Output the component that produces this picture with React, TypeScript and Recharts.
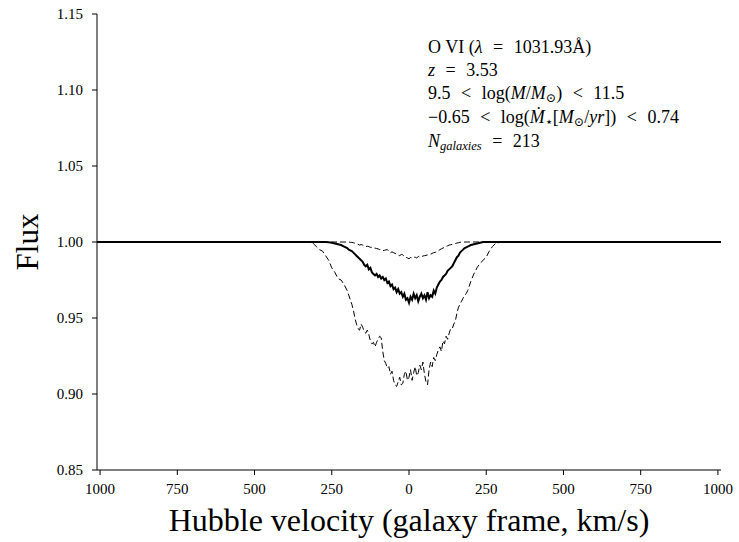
import React from "react";
import { LineChart, Line, XAxis, YAxis, Customized } from "recharts";

const velocity = [
  -1010, -400,
  -340, -330, -320, -310, -300, -290, -280, -270, -260, -250, -240, -230, -220, -210,
  -200, -195, -190, -185, -180, -175, -170, -165, -160, -155, -150, -145, -140, -135, -130, -125,
  -120, -115, -110, -105, -100, -95, -90, -85, -80, -75, -70, -65, -60, -55, -50, -45,
  -40, -35, -30, -25, -20, -15, -10, -5, 0, 5, 10, 15, 20, 25, 30, 35,
  40, 45, 50, 55, 60, 65, 70, 75, 80, 85, 90, 95, 100, 105, 110, 115,
  120, 125, 130, 135, 140, 145, 150, 155, 160, 165, 170, 175, 180, 185, 190, 195, 200,
  210, 220, 230, 240, 250, 260, 270, 280, 290, 300, 310, 320, 330, 340,
  400, 1010,
];

const medianFlux = [
  1.0, 1.0,
  1.0, 1.0, 1.0, 1.0, 1.0, 1.0, 1.0, 1.0, 0.9998, 0.9995, 0.999, 0.9985, 0.998, 0.997,
  0.996, 0.995, 0.9945, 0.994, 0.993, 0.992, 0.991, 0.99, 0.989, 0.988, 0.987, 0.985, 0.984, 0.985, 0.982, 0.983,
  0.98, 0.979, 0.978, 0.979, 0.977, 0.978, 0.976, 0.977, 0.975, 0.976, 0.973, 0.974, 0.971, 0.972, 0.969, 0.97,
  0.967, 0.969, 0.966, 0.967, 0.964, 0.966, 0.962, 0.963, 0.96, 0.964, 0.962, 0.966, 0.963, 0.965, 0.961, 0.964,
  0.966, 0.963, 0.965, 0.962, 0.967, 0.963, 0.965, 0.964, 0.968, 0.966, 0.97, 0.972, 0.974, 0.975, 0.977, 0.978,
  0.979, 0.981, 0.982, 0.983, 0.984, 0.986, 0.988, 0.99, 0.991, 0.993, 0.994, 0.995, 0.996, 0.9965, 0.997, 0.9975, 0.998,
  0.9985, 0.999, 0.9995, 1.0, 1.0, 1.0, 1.0, 1.0, 1.0, 1.0, 1.0, 1.0, 1.0, 1.0,
  1.0, 1.0,
];

const upperFlux = [
  1.0, 1.0,
  1.0, 1.0, 1.0, 1.0, 1.0, 1.0, 1.0, 1.0, 1.0, 1.0, 1.0, 1.0, 1.0, 1.0,
  1.0, 1.0, 0.9998, 0.9997, 0.9995, 0.9992, 0.999, 0.9985, 0.998, 0.9983, 0.998, 0.9975, 0.997, 0.9972, 0.997, 0.9965,
  0.9965, 0.996, 0.996, 0.9957, 0.9955, 0.995, 0.995, 0.9943, 0.9945, 0.9948, 0.995, 0.9938, 0.993, 0.9935, 0.993, 0.9925,
  0.992, 0.9915, 0.991, 0.9918, 0.9915, 0.9905, 0.99, 0.9895, 0.989, 0.9898, 0.9895, 0.99, 0.99, 0.9895, 0.9905, 0.99,
  0.99, 0.9908, 0.991, 0.9912, 0.9915, 0.9918, 0.992, 0.9925, 0.993, 0.9932, 0.9935, 0.9942, 0.995, 0.9955, 0.996, 0.9965,
  0.997, 0.9975, 0.998, 0.9982, 0.9985, 0.9988, 0.999, 0.9993, 0.9995, 0.9998, 1.0, 1.0, 1.0, 1.0, 1.0, 1.0, 1.0,
  1.0, 1.0, 1.0, 1.0, 1.0, 1.0, 1.0, 1.0, 1.0, 1.0, 1.0, 1.0, 1.0, 1.0,
  1.0, 1.0,
];

const lowerFlux = [
  1.0, 1.0,
  1.0, 1.0, 0.9995, 0.999, 0.997, 0.995, 0.994, 0.991, 0.988, 0.983, 0.98, 0.976, 0.975, 0.972,
  0.968, 0.965, 0.962, 0.959, 0.955, 0.95, 0.946, 0.943, 0.942, 0.946, 0.944, 0.941, 0.94, 0.942, 0.939, 0.935,
  0.933, 0.934, 0.931, 0.934, 0.936, 0.938, 0.937, 0.928, 0.922, 0.92, 0.917, 0.918, 0.913, 0.915, 0.909, 0.906,
  0.905, 0.908, 0.911, 0.906, 0.907, 0.913, 0.915, 0.909, 0.911, 0.916, 0.909, 0.914, 0.918, 0.912, 0.914, 0.919,
  0.916, 0.921, 0.913, 0.908, 0.906, 0.916, 0.921, 0.918, 0.924, 0.922, 0.926, 0.929, 0.931, 0.928, 0.935, 0.933,
  0.938, 0.936, 0.94, 0.943, 0.943, 0.946, 0.948, 0.953, 0.957, 0.959, 0.961, 0.963, 0.965, 0.966, 0.968, 0.971, 0.974,
  0.979, 0.983, 0.986, 0.988, 0.99, 0.994, 0.997, 0.999, 0.9995, 1.0, 1.0, 1.0, 1.0, 1.0,
  1.0, 1.0,
];

const xTicks = [-1000, -750, -500, -250, 0, 250, 500, 750, 1000];
const yTicks = [0.85, 0.9, 0.95, 1.0, 1.05, 1.1, 1.15];

const data = velocity.map((v, i) => ({
  v,
  median: medianFlux[i],
  upper: upperFlux[i],
  lower: lowerFlux[i],
}));

const FONT = "'Liberation Serif', 'DejaVu Serif', serif";
const SP = "\u2004";

const Annotation = () => {
  const x = 428;
  const fs = 18;
  const sub = 12.5;
  return (
    <g fontFamily={FONT} fontSize={fs} fill="#000" style={{ whiteSpace: "pre" }}>
      <text x={x} y={53}>
        {"O VI ("}<tspan fontStyle="italic">λ</tspan>{` ${SP}=${SP} 1031.93Å)`}
      </text>
      <text x={x} y={76}>
        <tspan fontStyle="italic">z</tspan>{` ${SP}=${SP} 3.53`}
      </text>
      <text x={x} y={99}>
        {`9.5 ${SP}<${SP} log(`}<tspan fontStyle="italic">M</tspan>/<tspan fontStyle="italic">M</tspan>
        <tspan fontSize={sub} dy={3}>⊙</tspan>
        <tspan dy={-3}>{`) ${SP}<${SP} 11.5`}</tspan>
      </text>
      <text x={x} y={123}>
        {`−0.65 ${SP}<${SP} log(`}<tspan fontStyle="italic">Ṁ</tspan>
        <tspan fontSize={sub} dy={3}>⋆</tspan>
        <tspan dy={-3}>[</tspan>
        <tspan fontStyle="italic">M</tspan>
        <tspan fontSize={sub} dy={3}>⊙</tspan>
        <tspan dy={-3}>/</tspan>
        <tspan fontStyle="italic">yr</tspan>{`]) ${SP}<${SP} 0.74`}
      </text>
      <text x={x} y={147}>
        <tspan fontStyle="italic">N</tspan>
        <tspan fontSize={sub} fontStyle="italic" dy={3}>galaxies</tspan>
        <tspan dy={-3}>{` ${SP}=${SP} 213`}</tspan>
      </text>
    </g>
  );
};

const css = `
.recharts-wrapper text, .recharts-wrapper tspan { font-family: ${FONT}; }
.recharts-cartesian-axis-tick-value { fill: #000; }
.recharts-label { fill: #000; }
`;

export default function App() {
  const tickStyle = { fontSize: 15, fill: "#000", fontFamily: FONT };
  return (
    <div style={{ position: "absolute", left: 0, top: 0, width: 739, height: 542, background: "#fff", fontFamily: FONT }}>
      <style>{css}</style>
      <LineChart width={739} height={542} data={data} margin={{ top: 14, right: 18, left: 0, bottom: 0 }} style={{ fontFamily: FONT }}>
        <XAxis
          dataKey="v"
          type="number"
          domain={[-1010, 1010]}
          ticks={xTicks}
          tickFormatter={(t: number) => String(Math.abs(t))}
          allowDataOverflow
          height={72}
          tickSize={5}
          tickMargin={8}
          stroke="#000"
          tick={tickStyle}
          tickLine={{ stroke: "#000" }}
          axisLine={{ stroke: "#000", strokeWidth: 1 }}
          label={{
            value: "Hubble velocity (galaxy frame, km/s)",
            position: "insideBottom",
            offset: 11,
            style: { fontSize: 32, fill: "#000", fontFamily: FONT },
          }}
        />
        <XAxis
          xAxisId="top"
          orientation="top"
          dataKey="v"
          type="number"
          domain={[-1010, 1010]}
          allowDataOverflow
          height={0}
          tick={false}
          tickLine={false}
          stroke="#000"
          axisLine={{ stroke: "#000", strokeWidth: 1 }}
        />
        <YAxis
          type="number"
          domain={[0.85, 1.15]}
          ticks={yTicks}
          allowDataOverflow
          tickFormatter={(t: number) => t.toFixed(2)}
          width={97}
          tickSize={5}
          tickMargin={9}
          stroke="#000"
          tick={tickStyle}
          tickLine={{ stroke: "#000" }}
          axisLine={{ stroke: "#000", strokeWidth: 1 }}
          label={{
            value: "Flux",
            angle: -90,
            position: "insideLeft",
            offset: 27,
            style: { fontSize: 31, fill: "#000", fontFamily: FONT, textAnchor: "middle" },
          }}
        />
        <YAxis
          yAxisId="right"
          orientation="right"
          type="number"
          domain={[0.85, 1.15]}
          allowDataOverflow
          width={0}
          tick={false}
          tickLine={false}
          stroke="#000"
          axisLine={{ stroke: "#000", strokeWidth: 1 }}
        />
        <Line
          dataKey="upper"
          type="linear"
          stroke="#000"
          strokeWidth={1}
          strokeDasharray="6 3"
          dot={false}
          isAnimationActive={false}
        />
        <Line
          dataKey="lower"
          type="linear"
          stroke="#000"
          strokeWidth={1}
          strokeDasharray="6 3"
          dot={false}
          isAnimationActive={false}
        />
        <Line
          dataKey="median"
          type="linear"
          stroke="#000"
          strokeWidth={2}
          dot={false}
          isAnimationActive={false}
        />
        <Customized component={Annotation} />
      </LineChart>
    </div>
  );
}
